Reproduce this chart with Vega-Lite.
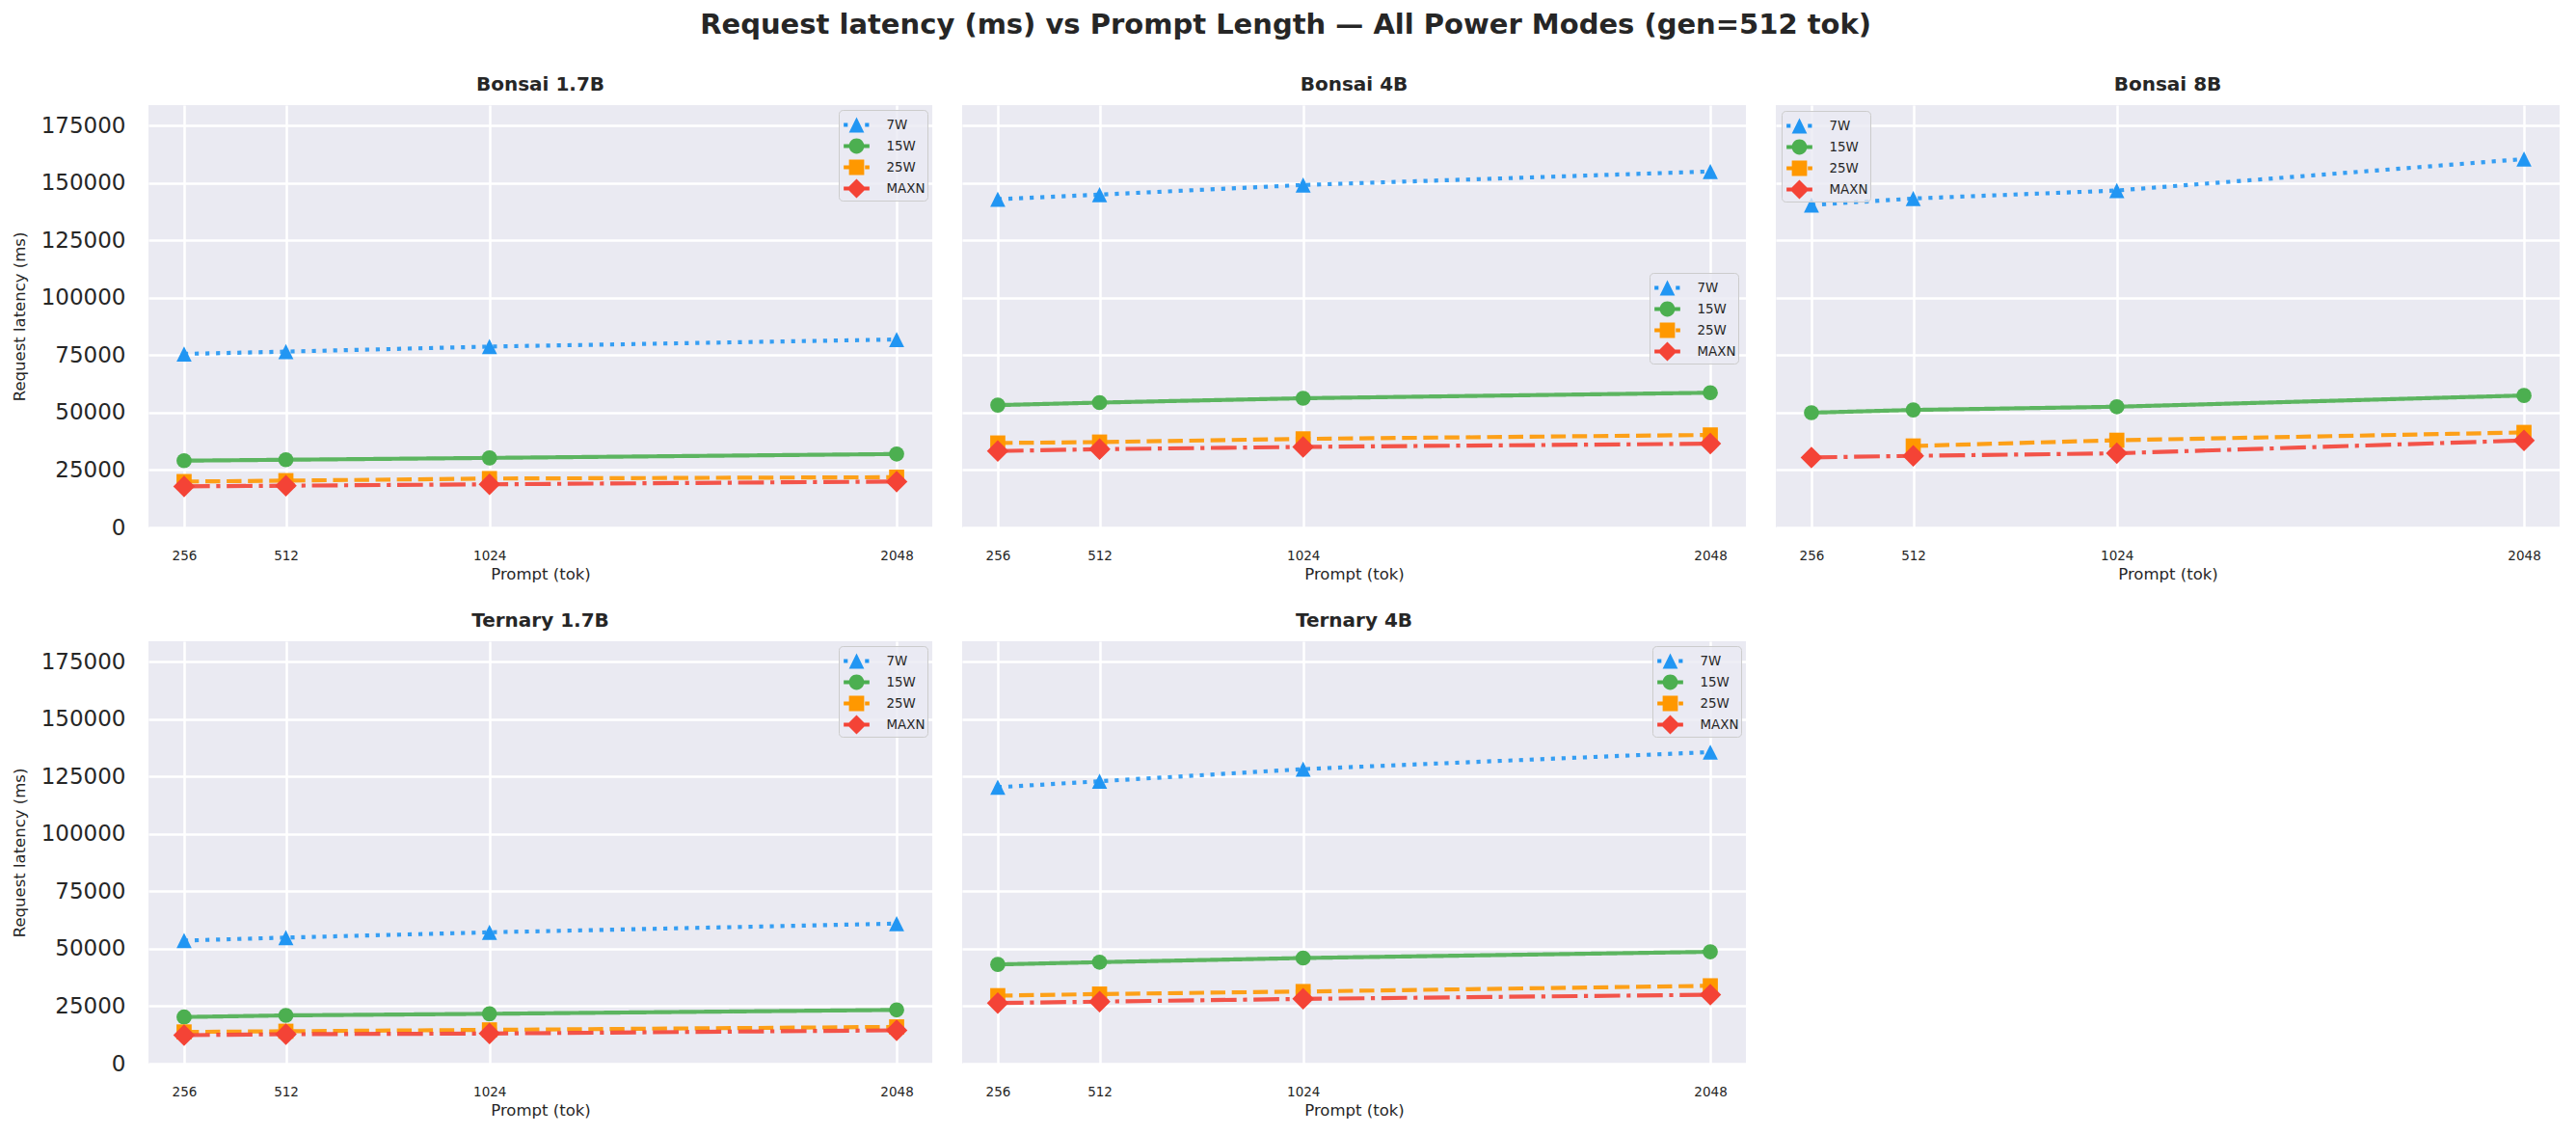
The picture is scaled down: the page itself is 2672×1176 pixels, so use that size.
{
  "$schema": "https://vega.github.io/schema/vega-lite/v6.json",
  "background": "white",
  "padding": {"left": 12, "top": 12, "right": 5, "bottom": 5},
  "title": {
    "text": "Request latency (ms) vs Prompt Length — All Power Modes (gen=512 tok)",
    "fontSize": 29,
    "frame": "bounds",
    "anchor": "middle",
    "offset": 37
  },
  "config": {
    "font": "DejaVu Sans",
    "view": {"fill": "#EAEAF2", "stroke": null},
    "title": {"font": "DejaVu Sans", "fontWeight": "bold", "color": "#262626", "fontSize": 20, "offset": 11, "frame": "group", "anchor": "middle"},
    "axis": {
      "grid": true, "gridColor": "white", "gridWidth": 2.5,
      "ticks": false, "tickSize": 0, "domain": false,
      "labelColor": "#262626", "titleColor": "#262626",
      "labelFont": "DejaVu Sans", "titleFont": "DejaVu Sans", "titleFontWeight": "normal"
    },
    "axisX": {"labelFontSize": 13.5, "labelPadding": 22, "titleFontSize": 16.5, "titlePadding": 5},
    "axisY": {"labelFontSize": 23, "labelPadding": 24, "titleFontSize": 16.5, "titlePadding": 14},
    "legend": {
      "labelFont": "DejaVu Sans", "labelFontSize": 13.4, "labelColor": "#262626",
      "labelExpr": "datum.label + '  '",
      "symbolSize": 713, "symbolStrokeWidth": 0, "symbolOpacity": 1, "symbolOffset": 3,
      "fillColor": "rgba(234,234,242,0.8)", "strokeColor": "#cccccc",
      "padding": 2, "cornerRadius": 4, "rowPadding": 0, "labelOffset": 17.5
    }
  },
  "datasets": {
    "lat": [
      {"model": "Bonsai 1.7B", "mode": "7W", "prompt": 256, "latency": 75600},
      {"model": "Bonsai 1.7B", "mode": "7W", "prompt": 512, "latency": 76600},
      {"model": "Bonsai 1.7B", "mode": "7W", "prompt": 1024, "latency": 78800},
      {"model": "Bonsai 1.7B", "mode": "7W", "prompt": 2048, "latency": 81900},
      {"model": "Bonsai 1.7B", "mode": "15W", "prompt": 256, "latency": 29100},
      {"model": "Bonsai 1.7B", "mode": "15W", "prompt": 512, "latency": 29500},
      {"model": "Bonsai 1.7B", "mode": "15W", "prompt": 1024, "latency": 30300},
      {"model": "Bonsai 1.7B", "mode": "15W", "prompt": 2048, "latency": 32000},
      {"model": "Bonsai 1.7B", "mode": "25W", "prompt": 256, "latency": 20000},
      {"model": "Bonsai 1.7B", "mode": "25W", "prompt": 512, "latency": 20400},
      {"model": "Bonsai 1.7B", "mode": "25W", "prompt": 1024, "latency": 21300},
      {"model": "Bonsai 1.7B", "mode": "25W", "prompt": 2048, "latency": 21900},
      {"model": "Bonsai 1.7B", "mode": "MAXN", "prompt": 256, "latency": 17900},
      {"model": "Bonsai 1.7B", "mode": "MAXN", "prompt": 512, "latency": 18200},
      {"model": "Bonsai 1.7B", "mode": "MAXN", "prompt": 1024, "latency": 18800},
      {"model": "Bonsai 1.7B", "mode": "MAXN", "prompt": 2048, "latency": 20000},

      {"model": "Bonsai 4B", "mode": "7W", "prompt": 256, "latency": 143000},
      {"model": "Bonsai 4B", "mode": "7W", "prompt": 512, "latency": 145000},
      {"model": "Bonsai 4B", "mode": "7W", "prompt": 1024, "latency": 149200},
      {"model": "Bonsai 4B", "mode": "7W", "prompt": 2048, "latency": 155100},
      {"model": "Bonsai 4B", "mode": "15W", "prompt": 256, "latency": 53300},
      {"model": "Bonsai 4B", "mode": "15W", "prompt": 512, "latency": 54400},
      {"model": "Bonsai 4B", "mode": "15W", "prompt": 1024, "latency": 56300},
      {"model": "Bonsai 4B", "mode": "15W", "prompt": 2048, "latency": 58700},
      {"model": "Bonsai 4B", "mode": "25W", "prompt": 256, "latency": 36800},
      {"model": "Bonsai 4B", "mode": "25W", "prompt": 512, "latency": 37200},
      {"model": "Bonsai 4B", "mode": "25W", "prompt": 1024, "latency": 38600},
      {"model": "Bonsai 4B", "mode": "25W", "prompt": 2048, "latency": 40300},
      {"model": "Bonsai 4B", "mode": "MAXN", "prompt": 256, "latency": 33300},
      {"model": "Bonsai 4B", "mode": "MAXN", "prompt": 512, "latency": 34100},
      {"model": "Bonsai 4B", "mode": "MAXN", "prompt": 1024, "latency": 35100},
      {"model": "Bonsai 4B", "mode": "MAXN", "prompt": 2048, "latency": 36500},

      {"model": "Bonsai 8B", "mode": "7W", "prompt": 256, "latency": 140500},
      {"model": "Bonsai 8B", "mode": "7W", "prompt": 512, "latency": 143300},
      {"model": "Bonsai 8B", "mode": "7W", "prompt": 1024, "latency": 146800},
      {"model": "Bonsai 8B", "mode": "7W", "prompt": 2048, "latency": 160500},
      {"model": "Bonsai 8B", "mode": "15W", "prompt": 256, "latency": 50000},
      {"model": "Bonsai 8B", "mode": "15W", "prompt": 512, "latency": 51200},
      {"model": "Bonsai 8B", "mode": "15W", "prompt": 1024, "latency": 52600},
      {"model": "Bonsai 8B", "mode": "15W", "prompt": 2048, "latency": 57500},
      {"model": "Bonsai 8B", "mode": "25W", "prompt": 512, "latency": 35500},
      {"model": "Bonsai 8B", "mode": "25W", "prompt": 1024, "latency": 38000},
      {"model": "Bonsai 8B", "mode": "25W", "prompt": 2048, "latency": 41400},
      {"model": "Bonsai 8B", "mode": "MAXN", "prompt": 256, "latency": 30500},
      {"model": "Bonsai 8B", "mode": "MAXN", "prompt": 512, "latency": 31200},
      {"model": "Bonsai 8B", "mode": "MAXN", "prompt": 1024, "latency": 32300},
      {"model": "Bonsai 8B", "mode": "MAXN", "prompt": 2048, "latency": 37900},

      {"model": "Ternary 1.7B", "mode": "7W", "prompt": 256, "latency": 53600},
      {"model": "Ternary 1.7B", "mode": "7W", "prompt": 512, "latency": 54900},
      {"model": "Ternary 1.7B", "mode": "7W", "prompt": 1024, "latency": 57200},
      {"model": "Ternary 1.7B", "mode": "7W", "prompt": 2048, "latency": 61000},
      {"model": "Ternary 1.7B", "mode": "15W", "prompt": 256, "latency": 20300},
      {"model": "Ternary 1.7B", "mode": "15W", "prompt": 512, "latency": 21000},
      {"model": "Ternary 1.7B", "mode": "15W", "prompt": 1024, "latency": 21700},
      {"model": "Ternary 1.7B", "mode": "15W", "prompt": 2048, "latency": 23400},
      {"model": "Ternary 1.7B", "mode": "25W", "prompt": 256, "latency": 13800},
      {"model": "Ternary 1.7B", "mode": "25W", "prompt": 512, "latency": 14100},
      {"model": "Ternary 1.7B", "mode": "25W", "prompt": 1024, "latency": 14700},
      {"model": "Ternary 1.7B", "mode": "25W", "prompt": 2048, "latency": 16000},
      {"model": "Ternary 1.7B", "mode": "MAXN", "prompt": 256, "latency": 12400},
      {"model": "Ternary 1.7B", "mode": "MAXN", "prompt": 512, "latency": 12800},
      {"model": "Ternary 1.7B", "mode": "MAXN", "prompt": 1024, "latency": 13100},
      {"model": "Ternary 1.7B", "mode": "MAXN", "prompt": 2048, "latency": 14500},

      {"model": "Ternary 4B", "mode": "7W", "prompt": 256, "latency": 120400},
      {"model": "Ternary 4B", "mode": "7W", "prompt": 512, "latency": 123000},
      {"model": "Ternary 4B", "mode": "7W", "prompt": 1024, "latency": 128300},
      {"model": "Ternary 4B", "mode": "7W", "prompt": 2048, "latency": 135700},
      {"model": "Ternary 4B", "mode": "15W", "prompt": 256, "latency": 43200},
      {"model": "Ternary 4B", "mode": "15W", "prompt": 512, "latency": 44200},
      {"model": "Ternary 4B", "mode": "15W", "prompt": 1024, "latency": 46000},
      {"model": "Ternary 4B", "mode": "15W", "prompt": 2048, "latency": 48700},
      {"model": "Ternary 4B", "mode": "25W", "prompt": 256, "latency": 29600},
      {"model": "Ternary 4B", "mode": "25W", "prompt": 512, "latency": 30300},
      {"model": "Ternary 4B", "mode": "25W", "prompt": 1024, "latency": 31400},
      {"model": "Ternary 4B", "mode": "25W", "prompt": 2048, "latency": 33900},
      {"model": "Ternary 4B", "mode": "MAXN", "prompt": 256, "latency": 26400},
      {"model": "Ternary 4B", "mode": "MAXN", "prompt": 512, "latency": 27000},
      {"model": "Ternary 4B", "mode": "MAXN", "prompt": 1024, "latency": 28200},
      {"model": "Ternary 4B", "mode": "MAXN", "prompt": 2048, "latency": 30000}
    ]
  },
  "data": {"name": "lat"},
  "columns": 3,
  "spacing": {"row": 118, "column": 31},
  "bounds": "flush",
  "resolve": {
    "scale": {"x": "independent", "y": "independent", "color": "independent", "shape": "independent"},
    "legend": {"color": "independent", "shape": "independent"}
  },
  "concat": [
    {
      "title": {"text": "Bonsai 1.7B"},
      "width": 813, "height": 438,
      "transform": [{"filter": "datum.model === 'Bonsai 1.7B'"}],
      "encoding": {
        "x": {"field": "prompt", "type": "quantitative", "scale": {"domain": [166.4, 2137.6], "nice": false, "zero": false}, "axis": {"values": [256, 512, 1024, 2048], "format": "d", "title": "Prompt (tok)"}},
        "y": {"field": "latency", "type": "quantitative", "scale": {"domain": [0, 184000], "nice": false}, "axis": {"values": [0, 25000, 50000, 75000, 100000, 125000, 150000, 175000], "format": "d", "title": "Request latency (ms)"}},
        "color": {"condition": [{"test": "datum.mode === '7W'", "value": "#2196F3"}, {"test": "datum.mode === '15W'", "value": "#4CAF50"}, {"test": "datum.mode === '25W'", "value": "#FF9800"}], "value": "#F44336"}
      },
      "layer": [
        {"mark": {"type": "line", "strokeWidth": 4.17, "opacity": 0.9},
         "encoding": {
           "detail": {"field": "mode", "type": "nominal"},
           "strokeDash": {"condition": [{"test": "datum.mode === '7W'", "value": [4.17, 6.88]}, {"test": "datum.mode === '15W'", "value": [1, 0]}, {"test": "datum.mode === '25W'", "value": [15.4, 6.67]}], "value": [26.7, 6.67, 4.17, 6.67]}}},
        {"mark": {"type": "point", "filled": true, "opacity": 1, "strokeWidth": 0},
         "encoding": {
           "shape": {"condition": [{"test": "datum.mode === '7W'", "value": "M0,-1L1,1L-1,1Z"}, {"test": "datum.mode === '15W'", "value": "circle"}, {"test": "datum.mode === '25W'", "value": "square"}], "value": "diamond"},
           "size": {"condition": {"test": "datum.mode === 'MAXN'", "value": 506}, "value": 246}}},
        {"transform": [{"filter": "false"}],
         "mark": {"type": "point", "filled": true, "opacity": 1},
         "encoding": {
           "color": {"field": "mode", "type": "nominal", "scale": {"domain": ["7W", "15W", "25W", "MAXN"], "range": ["#2196F3", "#4CAF50", "#FF9800", "#F44336"]}, "legend": {"title": null, "orient": "top-right", "offset": 5}},
           "shape": {"field": "mode", "type": "nominal", "scale": {"domain": ["7W", "15W", "25W", "MAXN"], "range": ["M-1,-0.157L-0.688,-0.157L-0.688,0.157L-1,0.157Z M0.656,-0.157L0.968,-0.157L0.968,0.157L0.656,0.157Z M0,-0.59L0.59,0.59L-0.59,0.59Z", "M-1,-0.157L1,-0.157L1,0.157L-1,0.157Z M-0.59,0A0.59,0.59,0,1,1,0.59,0A0.59,0.59,0,1,1,-0.59,0Z", "M-1,-0.157L0.154,-0.157L0.154,0.157L-1,0.157Z M0.654,-0.157L1,-0.157L1,0.157L0.654,0.157Z M-0.59,-0.59L0.59,-0.59L0.59,0.59L-0.59,0.59Z", "M-1,-0.157L1,-0.157L1,0.157L-1,0.157Z M0,-0.75L0.75,0L0,0.75L-0.75,0Z"]}, "legend": {"title": null, "orient": "top-right", "offset": 5}}}}
      ]
    },
    {
      "title": {"text": "Bonsai 4B"},
      "width": 813, "height": 438,
      "transform": [{"filter": "datum.model === 'Bonsai 4B'"}],
      "encoding": {
        "x": {"field": "prompt", "type": "quantitative", "scale": {"domain": [166.4, 2137.6], "nice": false, "zero": false}, "axis": {"values": [256, 512, 1024, 2048], "format": "d", "title": "Prompt (tok)"}},
        "y": {"field": "latency", "type": "quantitative", "scale": {"domain": [0, 184000], "nice": false}, "axis": {"values": [0, 25000, 50000, 75000, 100000, 125000, 150000, 175000], "labels": false, "title": null}},
        "color": {"condition": [{"test": "datum.mode === '7W'", "value": "#2196F3"}, {"test": "datum.mode === '15W'", "value": "#4CAF50"}, {"test": "datum.mode === '25W'", "value": "#FF9800"}], "value": "#F44336"}
      },
      "layer": [
        {"mark": {"type": "line", "strokeWidth": 4.17, "opacity": 0.9},
         "encoding": {
           "detail": {"field": "mode", "type": "nominal"},
           "strokeDash": {"condition": [{"test": "datum.mode === '7W'", "value": [4.17, 6.88]}, {"test": "datum.mode === '15W'", "value": [1, 0]}, {"test": "datum.mode === '25W'", "value": [15.4, 6.67]}], "value": [26.7, 6.67, 4.17, 6.67]}}},
        {"mark": {"type": "point", "filled": true, "opacity": 1, "strokeWidth": 0},
         "encoding": {
           "shape": {"condition": [{"test": "datum.mode === '7W'", "value": "M0,-1L1,1L-1,1Z"}, {"test": "datum.mode === '15W'", "value": "circle"}, {"test": "datum.mode === '25W'", "value": "square"}], "value": "diamond"},
           "size": {"condition": {"test": "datum.mode === 'MAXN'", "value": 506}, "value": 246}}},
        {"transform": [{"filter": "false"}],
         "mark": {"type": "point", "filled": true, "opacity": 1},
         "encoding": {
           "color": {"field": "mode", "type": "nominal", "scale": {"domain": ["7W", "15W", "25W", "MAXN"], "range": ["#2196F3", "#4CAF50", "#FF9800", "#F44336"]}, "legend": {"title": null, "orient": "none", "legendX": 713, "legendY": 174}},
           "shape": {"field": "mode", "type": "nominal", "scale": {"domain": ["7W", "15W", "25W", "MAXN"], "range": ["M-1,-0.157L-0.688,-0.157L-0.688,0.157L-1,0.157Z M0.656,-0.157L0.968,-0.157L0.968,0.157L0.656,0.157Z M0,-0.59L0.59,0.59L-0.59,0.59Z", "M-1,-0.157L1,-0.157L1,0.157L-1,0.157Z M-0.59,0A0.59,0.59,0,1,1,0.59,0A0.59,0.59,0,1,1,-0.59,0Z", "M-1,-0.157L0.154,-0.157L0.154,0.157L-1,0.157Z M0.654,-0.157L1,-0.157L1,0.157L0.654,0.157Z M-0.59,-0.59L0.59,-0.59L0.59,0.59L-0.59,0.59Z", "M-1,-0.157L1,-0.157L1,0.157L-1,0.157Z M0,-0.75L0.75,0L0,0.75L-0.75,0Z"]}, "legend": {"title": null, "orient": "none", "legendX": 713, "legendY": 174}}}}
      ]
    },
    {
      "title": {"text": "Bonsai 8B"},
      "width": 813, "height": 438,
      "transform": [{"filter": "datum.model === 'Bonsai 8B'"}],
      "encoding": {
        "x": {"field": "prompt", "type": "quantitative", "scale": {"domain": [166.4, 2137.6], "nice": false, "zero": false}, "axis": {"values": [256, 512, 1024, 2048], "format": "d", "title": "Prompt (tok)"}},
        "y": {"field": "latency", "type": "quantitative", "scale": {"domain": [0, 184000], "nice": false}, "axis": {"values": [0, 25000, 50000, 75000, 100000, 125000, 150000, 175000], "labels": false, "title": null}},
        "color": {"condition": [{"test": "datum.mode === '7W'", "value": "#2196F3"}, {"test": "datum.mode === '15W'", "value": "#4CAF50"}, {"test": "datum.mode === '25W'", "value": "#FF9800"}], "value": "#F44336"}
      },
      "layer": [
        {"mark": {"type": "line", "strokeWidth": 4.17, "opacity": 0.9},
         "encoding": {
           "detail": {"field": "mode", "type": "nominal"},
           "strokeDash": {"condition": [{"test": "datum.mode === '7W'", "value": [4.17, 6.88]}, {"test": "datum.mode === '15W'", "value": [1, 0]}, {"test": "datum.mode === '25W'", "value": [15.4, 6.67]}], "value": [26.7, 6.67, 4.17, 6.67]}}},
        {"mark": {"type": "point", "filled": true, "opacity": 1, "strokeWidth": 0},
         "encoding": {
           "shape": {"condition": [{"test": "datum.mode === '7W'", "value": "M0,-1L1,1L-1,1Z"}, {"test": "datum.mode === '15W'", "value": "circle"}, {"test": "datum.mode === '25W'", "value": "square"}], "value": "diamond"},
           "size": {"condition": {"test": "datum.mode === 'MAXN'", "value": 506}, "value": 246}}},
        {"transform": [{"filter": "false"}],
         "mark": {"type": "point", "filled": true, "opacity": 1},
         "encoding": {
           "color": {"field": "mode", "type": "nominal", "scale": {"domain": ["7W", "15W", "25W", "MAXN"], "range": ["#2196F3", "#4CAF50", "#FF9800", "#F44336"]}, "legend": {"title": null, "orient": "top-left", "offset": 6}},
           "shape": {"field": "mode", "type": "nominal", "scale": {"domain": ["7W", "15W", "25W", "MAXN"], "range": ["M-1,-0.157L-0.688,-0.157L-0.688,0.157L-1,0.157Z M0.656,-0.157L0.968,-0.157L0.968,0.157L0.656,0.157Z M0,-0.59L0.59,0.59L-0.59,0.59Z", "M-1,-0.157L1,-0.157L1,0.157L-1,0.157Z M-0.59,0A0.59,0.59,0,1,1,0.59,0A0.59,0.59,0,1,1,-0.59,0Z", "M-1,-0.157L0.154,-0.157L0.154,0.157L-1,0.157Z M0.654,-0.157L1,-0.157L1,0.157L0.654,0.157Z M-0.59,-0.59L0.59,-0.59L0.59,0.59L-0.59,0.59Z", "M-1,-0.157L1,-0.157L1,0.157L-1,0.157Z M0,-0.75L0.75,0L0,0.75L-0.75,0Z"]}, "legend": {"title": null, "orient": "top-left", "offset": 6}}}}
      ]
    },
    {
      "title": {"text": "Ternary 1.7B"},
      "width": 813, "height": 438,
      "transform": [{"filter": "datum.model === 'Ternary 1.7B'"}],
      "encoding": {
        "x": {"field": "prompt", "type": "quantitative", "scale": {"domain": [166.4, 2137.6], "nice": false, "zero": false}, "axis": {"values": [256, 512, 1024, 2048], "format": "d", "title": "Prompt (tok)"}},
        "y": {"field": "latency", "type": "quantitative", "scale": {"domain": [0, 184000], "nice": false}, "axis": {"values": [0, 25000, 50000, 75000, 100000, 125000, 150000, 175000], "format": "d", "title": "Request latency (ms)"}},
        "color": {"condition": [{"test": "datum.mode === '7W'", "value": "#2196F3"}, {"test": "datum.mode === '15W'", "value": "#4CAF50"}, {"test": "datum.mode === '25W'", "value": "#FF9800"}], "value": "#F44336"}
      },
      "layer": [
        {"mark": {"type": "line", "strokeWidth": 4.17, "opacity": 0.9},
         "encoding": {
           "detail": {"field": "mode", "type": "nominal"},
           "strokeDash": {"condition": [{"test": "datum.mode === '7W'", "value": [4.17, 6.88]}, {"test": "datum.mode === '15W'", "value": [1, 0]}, {"test": "datum.mode === '25W'", "value": [15.4, 6.67]}], "value": [26.7, 6.67, 4.17, 6.67]}}},
        {"mark": {"type": "point", "filled": true, "opacity": 1, "strokeWidth": 0},
         "encoding": {
           "shape": {"condition": [{"test": "datum.mode === '7W'", "value": "M0,-1L1,1L-1,1Z"}, {"test": "datum.mode === '15W'", "value": "circle"}, {"test": "datum.mode === '25W'", "value": "square"}], "value": "diamond"},
           "size": {"condition": {"test": "datum.mode === 'MAXN'", "value": 506}, "value": 246}}},
        {"transform": [{"filter": "false"}],
         "mark": {"type": "point", "filled": true, "opacity": 1},
         "encoding": {
           "color": {"field": "mode", "type": "nominal", "scale": {"domain": ["7W", "15W", "25W", "MAXN"], "range": ["#2196F3", "#4CAF50", "#FF9800", "#F44336"]}, "legend": {"title": null, "orient": "top-right", "offset": 5}},
           "shape": {"field": "mode", "type": "nominal", "scale": {"domain": ["7W", "15W", "25W", "MAXN"], "range": ["M-1,-0.157L-0.688,-0.157L-0.688,0.157L-1,0.157Z M0.656,-0.157L0.968,-0.157L0.968,0.157L0.656,0.157Z M0,-0.59L0.59,0.59L-0.59,0.59Z", "M-1,-0.157L1,-0.157L1,0.157L-1,0.157Z M-0.59,0A0.59,0.59,0,1,1,0.59,0A0.59,0.59,0,1,1,-0.59,0Z", "M-1,-0.157L0.154,-0.157L0.154,0.157L-1,0.157Z M0.654,-0.157L1,-0.157L1,0.157L0.654,0.157Z M-0.59,-0.59L0.59,-0.59L0.59,0.59L-0.59,0.59Z", "M-1,-0.157L1,-0.157L1,0.157L-1,0.157Z M0,-0.75L0.75,0L0,0.75L-0.75,0Z"]}, "legend": {"title": null, "orient": "top-right", "offset": 5}}}}
      ]
    },
    {
      "title": {"text": "Ternary 4B"},
      "width": 813, "height": 438,
      "transform": [{"filter": "datum.model === 'Ternary 4B'"}],
      "encoding": {
        "x": {"field": "prompt", "type": "quantitative", "scale": {"domain": [166.4, 2137.6], "nice": false, "zero": false}, "axis": {"values": [256, 512, 1024, 2048], "format": "d", "title": "Prompt (tok)"}},
        "y": {"field": "latency", "type": "quantitative", "scale": {"domain": [0, 184000], "nice": false}, "axis": {"values": [0, 25000, 50000, 75000, 100000, 125000, 150000, 175000], "labels": false, "title": null}},
        "color": {"condition": [{"test": "datum.mode === '7W'", "value": "#2196F3"}, {"test": "datum.mode === '15W'", "value": "#4CAF50"}, {"test": "datum.mode === '25W'", "value": "#FF9800"}], "value": "#F44336"}
      },
      "layer": [
        {"mark": {"type": "line", "strokeWidth": 4.17, "opacity": 0.9},
         "encoding": {
           "detail": {"field": "mode", "type": "nominal"},
           "strokeDash": {"condition": [{"test": "datum.mode === '7W'", "value": [4.17, 6.88]}, {"test": "datum.mode === '15W'", "value": [1, 0]}, {"test": "datum.mode === '25W'", "value": [15.4, 6.67]}], "value": [26.7, 6.67, 4.17, 6.67]}}},
        {"mark": {"type": "point", "filled": true, "opacity": 1, "strokeWidth": 0},
         "encoding": {
           "shape": {"condition": [{"test": "datum.mode === '7W'", "value": "M0,-1L1,1L-1,1Z"}, {"test": "datum.mode === '15W'", "value": "circle"}, {"test": "datum.mode === '25W'", "value": "square"}], "value": "diamond"},
           "size": {"condition": {"test": "datum.mode === 'MAXN'", "value": 506}, "value": 246}}},
        {"transform": [{"filter": "false"}],
         "mark": {"type": "point", "filled": true, "opacity": 1},
         "encoding": {
           "color": {"field": "mode", "type": "nominal", "scale": {"domain": ["7W", "15W", "25W", "MAXN"], "range": ["#2196F3", "#4CAF50", "#FF9800", "#F44336"]}, "legend": {"title": null, "orient": "top-right", "offset": 5}},
           "shape": {"field": "mode", "type": "nominal", "scale": {"domain": ["7W", "15W", "25W", "MAXN"], "range": ["M-1,-0.157L-0.688,-0.157L-0.688,0.157L-1,0.157Z M0.656,-0.157L0.968,-0.157L0.968,0.157L0.656,0.157Z M0,-0.59L0.59,0.59L-0.59,0.59Z", "M-1,-0.157L1,-0.157L1,0.157L-1,0.157Z M-0.59,0A0.59,0.59,0,1,1,0.59,0A0.59,0.59,0,1,1,-0.59,0Z", "M-1,-0.157L0.154,-0.157L0.154,0.157L-1,0.157Z M0.654,-0.157L1,-0.157L1,0.157L0.654,0.157Z M-0.59,-0.59L0.59,-0.59L0.59,0.59L-0.59,0.59Z", "M-1,-0.157L1,-0.157L1,0.157L-1,0.157Z M0,-0.75L0.75,0L0,0.75L-0.75,0Z"]}, "legend": {"title": null, "orient": "top-right", "offset": 5}}}}
      ]
    }
  ]
}
